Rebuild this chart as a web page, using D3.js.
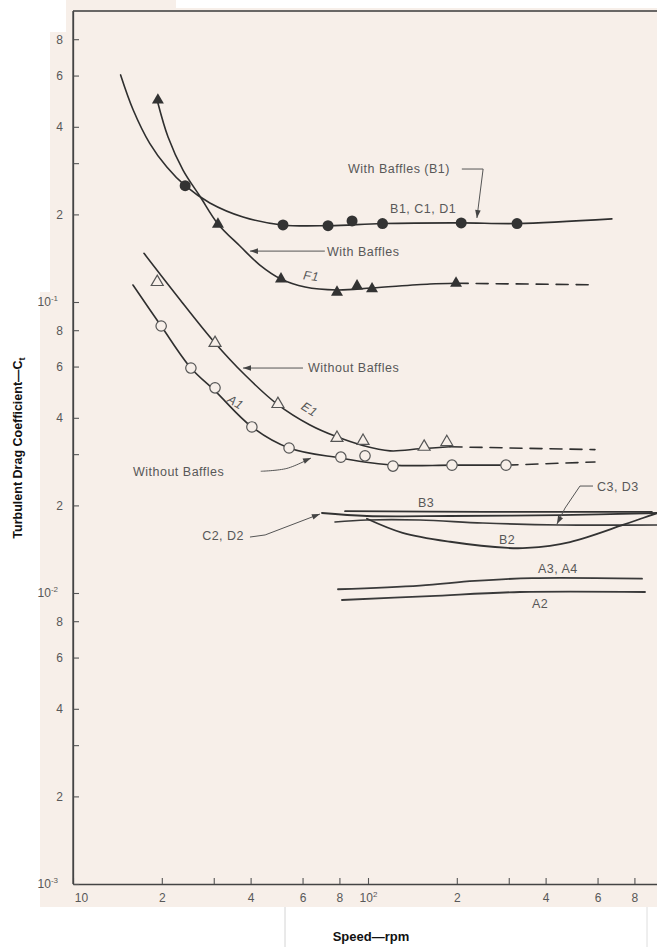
<!DOCTYPE html>
<html>
<head>
<meta charset="utf-8">
<script src="https://cdn.jsdelivr.net/npm/d3@7"></script>
<style>
  body { margin: 0; background: #fff; }
  svg { display: block; }
  text { font-family: "Liberation Sans", Arial, sans-serif; }
</style>
</head>
<body>
<svg id="chart" width="657" height="947"></svg>
<script>
// ---- axis ticks ----
const xTicks = [10, 20, 30, 40, 60, 80, 100, 200, 300, 400, 600, 800];
const xTickLabels = ["10", "2", "", "4", "6", "8", "10|2", "2", "", "4", "6", "8"];
const yTicks = [0.001, 0.002, 0.003, 0.004, 0.006, 0.008,
                0.01, 0.02, 0.03, 0.04, 0.06, 0.08,
                0.1, 0.2, 0.3, 0.4, 0.6, 0.8];
const yTickLabels = ["10|-3", "2", "", "4", "6", "8",
                     "10|-2", "2", "", "4", "6", "8",
                     "10|-1", "2", "", "4", "6", "8"];

// ---- with baffles: B1, C1, D1 (filled circles) ----
const curveB1 = [[14.5, 0.603], [16.0, 0.457], [18.2, 0.351], [20.8, 0.291], [24.0, 0.251],
                 [29.1, 0.219], [37.7, 0.196], [51.1, 0.184], [73.8, 0.183], [112, 0.186],
                 [207, 0.187], [320, 0.186], [671, 0.193]];
const pointsB1 = [[24.0, 0.251], [51.5, 0.184], [73.2, 0.183], [88.3, 0.190], [112, 0.186],
                  [207, 0.187], [320, 0.186]];

// ---- with baffles: F1 (filled triangles) ----
const curveF1 = [[19.4, 0.483], [21.0, 0.369], [23.6, 0.284], [27.0, 0.230], [31.0, 0.1855],
                 [36.8, 0.1557], [43.0, 0.134], [50.7, 0.120], [61.2, 0.1126], [78.5, 0.110],
                 [103, 0.1117], [162, 0.1153], [199, 0.116]];
const dashF1 = [[199, 0.116], [574, 0.1146]];
const pointsF1 = [[19.4, 0.494], [31.0, 0.185], [50.7, 0.120], [78.5, 0.108], [91.8, 0.1135],
                  [103.2, 0.111], [198.8, 0.116]];

// ---- without baffles: E1 (open triangles) ----
const curveE1 = [[17.4, 0.147], [23.1, 0.1016], [30.1, 0.0729], [38.3, 0.0561], [49.2, 0.0446],
                 [63.6, 0.0378], [78.5, 0.0344], [95.4, 0.0322], [118.8, 0.0308], [150, 0.0313],
                 [189.7, 0.0318]];
const dashE1 = [[189.7, 0.0318], [588, 0.0311]];
const pointsE1 = [[19.3, 0.1171], [30.3, 0.0723], [49.5, 0.0446], [78.5, 0.0341], [96.2, 0.0333],
                  [155, 0.0318], [185, 0.033]];

// ---- without baffles: A1 (open circles) ----
const curveA1 = [[15.97, 0.1144], [19.9, 0.0827], [25.1, 0.0593], [30.3, 0.0495], [40.4, 0.0372],
                 [54.0, 0.0315], [80.4, 0.0291], [121.5, 0.0275], [192.6, 0.0275], [293.6, 0.0275]];
const dashA1 = [[293.6, 0.0275], [588, 0.0282]];
const pointsA1 = [[19.9, 0.0827], [25.1, 0.0593], [30.3, 0.0507], [40.4, 0.0372], [54.0, 0.0315],
                  [80.9, 0.0293], [97.7, 0.0296], [121.5, 0.0273], [192.6, 0.0275], [293.6, 0.0275]];

// ---- low-drag group ----
const lineB3   = [[83.6, 0.0191], [250, 0.0190], [917, 0.0190]];
const lineC2D2 = [[69.8, 0.01883], [99.2, 0.01839], [190, 0.01839], [448, 0.01853], [955, 0.01883]];
const lineC3D3 = [[77.3, 0.01754], [99.2, 0.01782], [150, 0.01782], [245, 0.0174], [448, 0.01713], [955, 0.01713]];
const lineB2   = [[99.2, 0.0180], [131, 0.0161], [190, 0.0150], [298, 0.01428], [346, 0.01428],
                  [484, 0.01497], [731, 0.01713], [855, 0.0181], [955, 0.0188]];
const lineA3A4 = [[79.1, 0.0103], [150, 0.0106], [230, 0.0110], [360, 0.01125], [849, 0.0112]];
const lineA2   = [[81.6, 0.00946], [162, 0.00976], [327, 0.01008], [869, 0.01008]];

// ---- labels: text, anchor (rpm, Ct), rotation, italic ----
const labelTexts = ["With Baffles (B1)", "B1, C1, D1", "With Baffles", "F1", "Without Baffles",
                    "A1", "E1", "Without Baffles", "C2, D2", "B3", "B2", "C3, D3", "A3, A4", "A2"];
const labelRpm = [85.5, 118.8, 72.6, 64.1, 62.6, 35.4, 63.1, 15.97, 27.4, 147.7, 278, 597, 376.7, 359.6];
const labelCt = [0.277, 0.2024, 0.1439, 0.1219, 0.0575, 0.0450, 0.0425, 0.0253, 0.01518, 0.01975,
                 0.01472, 0.02241, 0.01171, 0.00889];
const labelRot = [0, 0, 0, 8, 0, 32, 32, 0, 0, 0, 0, 0, 0, 0];
const labelItalic = [false, false, false, true, false, true, true, false, false, false, false, false, false, false];

// ---- leader lines (last point carries the arrowhead) ----
const leaderB1 = [[208, 0.2864], [245.6, 0.2864], [234, 0.1944]];
const leaderWith = [[71.4, 0.1496], [39.8, 0.1496]];
const leaderWithoutUpper = [[60.2, 0.0593], [37.7, 0.0593]];
const leaderWithoutLower = [[43.3, 0.0262], [53.1, 0.0268], [64.1, 0.0291]];
const leaderC2D2 = [[39.8, 0.01557], [44.8, 0.01583], [68.7, 0.01868]];
const leaderC3D3 = [[579, 0.02331], [523, 0.02331], [465.6, 0.01959], [437, 0.01726]];

// ================= drawing =================
const svg = d3.select("#chart");
const x = d3.scaleLog().domain([10, 1000]).range([73, 663]);
const y = d3.scaleLog().domain([1e-3, 1]).range([884, 11]);

const INK = "#2f2f2f";
const TEXT = "#585858";
const PAPER = "#f7efe9";

// paper
svg.append("rect").attr("width", 657).attr("height", 947).attr("fill", "#fff");
svg.append("path")
  .attr("d", "M66,0 L176,0 L176,8 L657,8 L657,907 L40,907 L40,292 L50,292 L50,32 L66,32 Z")
  .attr("fill", PAPER);
// faint scan streaks below the sheet
svg.append("line").attr("x1", 285).attr("x2", 285).attr("y1", 907).attr("y2", 947)
  .attr("stroke", "#c9c9c9").attr("stroke-width", 0.8);
svg.append("line").attr("x1", 647).attr("x2", 647).attr("y1", 907).attr("y2", 947)
  .attr("stroke", "#d6d6d6").attr("stroke-width", 0.8);

// axes
function supLabel(sel, labels) {
  sel.selectAll(".tick text").each(function (d, i) {
    const t = d3.select(this);
    const lab = labels[i];
    t.text(null);
    if (lab.includes("|")) {
      const [base, exp] = lab.split("|");
      t.append("tspan").text(base);
      t.append("tspan").text(exp).attr("dy", -5).attr("font-size", 8);
      t.classed("decade", true);
    } else {
      t.text(lab);
    }
  });
}

const xAxis = svg.append("g").attr("transform", "translate(0,884)")
  .call(d3.axisBottom(x).tickValues(xTicks).tickSizeInner(-6).tickSizeOuter(0).tickPadding(9));
supLabel(xAxis, xTickLabels);
xAxis.select(".domain").attr("stroke", "#444").attr("stroke-width", 1.3);
xAxis.selectAll(".tick line").attr("stroke", "#555").attr("stroke-width", 1.1);
xAxis.selectAll(".tick text").attr("fill", TEXT).attr("font-size", 12);
xAxis.selectAll(".tick").filter((d, i) => i === 0).select("text").attr("dx", 8);

const yAxis = svg.append("g").attr("transform", "translate(73,0)")
  .call(d3.axisLeft(y).tickValues(yTicks).tickSizeInner(-6).tickSizeOuter(0).tickPadding(10));
supLabel(yAxis, yTickLabels);
yAxis.select(".domain").attr("stroke", "#444").attr("stroke-width", 1.3);
yAxis.selectAll(".tick line").attr("stroke", "#555").attr("stroke-width", 1.1);
yAxis.selectAll(".tick text").attr("fill", TEXT).attr("font-size", 12);
yAxis.selectAll(".tick text.decade").attr("dx", -5);

// frame top edge and left spine to the top
svg.append("line").attr("x1", x(10)).attr("x2", 657).attr("y1", y(1)).attr("y2", y(1))
  .attr("stroke", "#3a3a3a").attr("stroke-width", 1.4);
svg.append("line").attr("x1", x(10)).attr("x2", x(10)).attr("y1", y(1)).attr("y2", y(1e-3))
  .attr("stroke", "#444").attr("stroke-width", 1.3);

// axis titles
svg.append("text").attr("x", 371).attr("y", 941).attr("text-anchor", "middle")
  .attr("font-size", 13).attr("font-weight", "bold").attr("fill", "#111").text("Speed—rpm");
const yt = svg.append("text").attr("transform", "translate(22,448) rotate(-90)")
  .attr("text-anchor", "middle").attr("font-size", 12.5).attr("font-weight", "bold").attr("fill", "#111");
yt.append("tspan").text("Turbulent Drag Coefficient—C");
yt.append("tspan").text("t").attr("font-size", 9).attr("dy", 3);

// curves
const line = d3.line().x(d => x(d[0])).y(d => y(d[1])).curve(d3.curveCatmullRom.alpha(0.5));
const plot = svg.append("g");
function drawLine(data, opts = {}) {
  plot.append("path").attr("d", line(data)).attr("fill", "none")
    .attr("stroke", opts.color || INK).attr("stroke-width", opts.width || 1.6)
    .attr("stroke-dasharray", opts.dash || null).attr("stroke-linecap", "round");
}
drawLine(curveB1);
drawLine(curveF1);
drawLine(dashF1, { dash: "12,8" });
drawLine(curveE1);
drawLine(dashE1, { dash: "12,8" });
drawLine(curveA1);
drawLine(dashA1, { dash: "12,8" });
drawLine(lineB3, { width: 1.8, color: "#333" });
drawLine(lineC2D2, { width: 1.8, color: "#333" });
drawLine(lineC3D3, { width: 1.7, color: "#3a3a3a" });
drawLine(lineB2, { width: 1.8, color: "#333" });
drawLine(lineA3A4, { width: 1.8, color: "#3a3a3a" });
drawLine(lineA2, { width: 1.8, color: "#3a3a3a" });

// markers
const tri = d3.symbol().type(d3.symbolTriangle).size(62)();
plot.selectAll(".b1").data(pointsB1).join("circle")
  .attr("cx", d => x(d[0])).attr("cy", d => y(d[1])).attr("r", 5.5).attr("fill", "#333");
plot.selectAll(".f1").data(pointsF1).join("path")
  .attr("d", tri).attr("transform", d => `translate(${x(d[0])},${y(d[1])})`).attr("fill", "#333");
plot.selectAll(".e1").data(pointsE1).join("path")
  .attr("d", tri).attr("transform", d => `translate(${x(d[0])},${y(d[1])})`)
  .attr("fill", PAPER).attr("stroke", "#555").attr("stroke-width", 1.2);
plot.selectAll(".a1").data(pointsA1).join("circle")
  .attr("cx", d => x(d[0])).attr("cy", d => y(d[1])).attr("r", 5.2)
  .attr("fill", PAPER).attr("stroke", "#555").attr("stroke-width", 1.2);

// leaders with arrowheads
const straight = d3.line().x(d => x(d[0])).y(d => y(d[1]));
const smooth = d3.line().x(d => x(d[0])).y(d => y(d[1])).curve(d3.curveCatmullRom);
function leader(pts, curved) {
  svg.append("path").attr("d", (curved ? smooth : straight)(pts)).attr("fill", "none")
    .attr("stroke", "#555").attr("stroke-width", 1);
  const a = pts[pts.length - 2], b = pts[pts.length - 1];
  const ax = x(a[0]), ay = y(a[1]), bx = x(b[0]), by = y(b[1]);
  const ang = Math.atan2(by - ay, bx - ax) * 180 / Math.PI;
  svg.append("path").attr("d", "M0,0 L-8,-2.8 L-8,2.8 Z")
    .attr("transform", `translate(${bx},${by}) rotate(${ang})`).attr("fill", "#444");
}
leader(leaderB1);
leader(leaderWith);
leader(leaderWithoutUpper);
leader(leaderWithoutLower, true);
leader(leaderC2D2);
leader(leaderC3D3);

// text labels
labelTexts.forEach((t, i) => {
  const px = x(labelRpm[i]), py = y(labelCt[i]);
  const el = svg.append("text").attr("font-size", 12.5).attr("letter-spacing", 0.5)
    .attr("fill", TEXT).text(t);
  if (labelRot[i]) {
    el.attr("text-anchor", "middle").attr("dominant-baseline", "middle")
      .attr("transform", `translate(${px},${py}) rotate(${labelRot[i]})`);
  } else {
    el.attr("x", px).attr("y", py);
  }
  if (labelItalic[i]) el.attr("font-style", "italic");
});
</script>
</body>
</html>
